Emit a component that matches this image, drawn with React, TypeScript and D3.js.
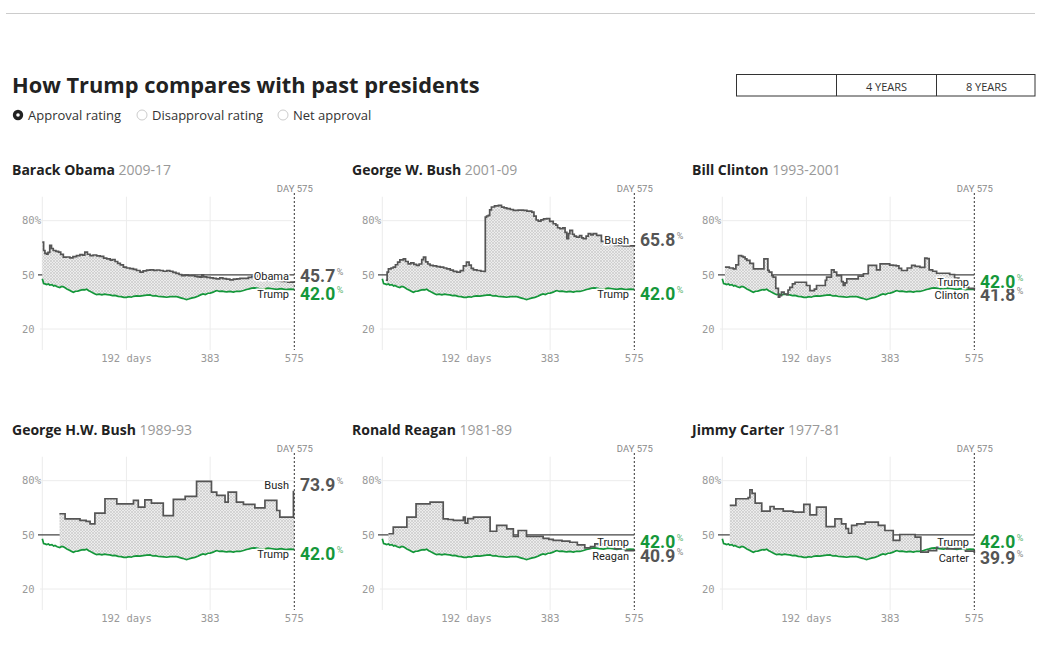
import * as d3 from "d3";

// approval ratings, [day in office, approval %]
const trump: [number, number][] = [
  [0, 47.8], [3, 45.2], [6, 45.0], [10, 44.6], [14, 44.9], [17, 44.3], [22, 44.6], [26, 43.8], [29, 44.1],
  [34, 43.4], [40, 43.0], [44, 43.6], [48, 43.4], [52, 42.8], [56, 42.2], [62, 41.5], [67, 40.8], [71, 40.3],
  [76, 40.9], [81, 41.0], [86, 41.4], [92, 41.8], [97, 41.7], [101, 42.1], [106, 41.2], [110, 40.8], [113, 40.3],
  [118, 39.7], [124, 39.0], [130, 39.3], [136, 38.9], [142, 39.3], [148, 39.0], [154, 38.9], [160, 38.5],
  [166, 38.6], [173, 38.1], [180, 37.9], [186, 37.5], [192, 37.5], [198, 37.9], [203, 37.6], [208, 38.1],
  [215, 38.4], [223, 38.2], [230, 38.5], [238, 38.8], [246, 38.9], [252, 38.3], [258, 38.5], [265, 38.0],
  [272, 37.9], [278, 37.8], [284, 37.6], [292, 37.9], [299, 38.0], [307, 37.9], [314, 37.4], [320, 37.0],
  [325, 36.6], [329, 36.3], [334, 36.6], [340, 37.1], [348, 37.5], [355, 38.1], [361, 38.9], [367, 39.4],
  [372, 39.1], [378, 39.8], [383, 39.9], [390, 40.4], [395, 41.0], [398, 41.3], [404, 40.8], [410, 41.0],
  [416, 40.7], [421, 40.6], [428, 40.8], [436, 40.4], [443, 40.9], [451, 40.8], [459, 41.3], [466, 41.9],
  [472, 42.2], [478, 42.6], [485, 42.8], [495, 42.4], [505, 42.1], [515, 42.6], [525, 42.3], [535, 42.0],
  [545, 42.4], [555, 41.8], [565, 42.1], [575, 42.0],
];

const obama: [number, number][] = [
  [0, 68.1], [3, 63.5], [6, 61.9], [10, 61.5], [13, 62.5], [17, 66.3], [21, 64.6], [25, 63.5], [31, 63.0],
  [37, 62.6], [42, 61.3], [48, 59.8], [55, 59.9], [63, 59.4], [70, 60.1], [78, 60.7], [86, 61.2], [92, 60.9],
  [97, 62.6], [103, 61.4], [109, 60.7], [116, 61.0], [124, 60.5], [132, 60.2], [140, 59.3], [147, 58.9],
  [155, 58.2], [160, 58.5], [166, 57.4], [172, 56.4], [178, 55.5], [185, 54.3], [192, 53.8], [200, 53.5],
  [208, 53.0], [215, 52.4], [223, 51.5], [230, 52.2], [238, 52.6], [246, 52.8], [254, 52.5], [261, 52.7],
  [268, 52.4], [276, 52.0], [284, 52.3], [291, 52.0], [298, 51.4], [305, 50.8], [312, 50.2], [318, 49.6],
  [326, 49.8], [333, 49.5], [341, 49.6], [348, 49.2], [354, 48.9], [360, 48.7], [364, 50.0], [368, 48.9],
  [375, 48.6], [383, 48.3], [390, 48.1], [397, 47.8], [405, 48.3], [412, 47.9], [420, 47.6], [428, 47.2],
  [436, 47.6], [444, 47.8], [451, 48.1], [460, 48.0], [470, 48.6], [478, 49.1], [490, 48.0], [500, 47.5],
  [515, 47.1], [530, 46.6], [545, 46.4], [560, 46.0], [575, 45.7],
];

const bushW: [number, number][] = [
  [8, 47.0], [11, 51.5], [14, 53.3], [20, 53.8], [25, 54.3], [30, 55.6], [35, 57.0], [40, 58.3], [48, 58.9],
  [53, 57.4], [59, 56.1], [65, 56.6], [72, 55.8], [78, 55.2], [84, 56.0], [90, 58.4], [94, 59.8], [99, 57.2],
  [104, 56.0], [109, 55.2], [116, 55.0], [124, 54.6], [132, 54.3], [140, 53.8], [147, 53.3], [155, 52.6],
  [162, 51.9], [170, 51.5], [178, 52.3], [185, 55.0], [192, 57.0], [198, 55.4], [203, 53.6], [208, 52.8],
  [216, 52.4], [225, 52.0], [233, 51.9], [235, 82.0], [238, 82.6], [242, 83.0], [245, 86.0], [249, 87.6],
  [256, 88.2], [265, 88.5], [272, 87.5], [278, 87.1], [284, 86.7], [292, 86.2], [299, 85.7], [310, 85.9],
  [322, 85.7], [330, 85.3], [341, 84.8], [346, 82.5], [351, 80.4], [356, 79.8], [362, 80.5], [368, 81.0],
  [375, 81.1], [382, 79.6], [390, 78.3], [396, 77.5], [400, 76.1], [405, 75.6], [412, 76.0], [417, 73.5],
  [421, 70.0], [425, 72.8], [428, 74.6], [434, 72.5], [438, 71.5], [443, 70.9], [450, 71.8], [455, 70.5],
  [459, 70.0], [465, 71.5], [470, 72.8], [476, 72.2], [481, 72.8], [489, 71.9], [500, 68.5], [515, 67.6],
  [530, 66.3], [550, 66.0], [575, 65.8],
];

const clinton: [number, number][] = [
  [6, 54.3], [16, 53.8], [25, 53.3], [31, 55.5], [37, 60.7], [44, 60.2], [48, 59.8], [52, 58.8], [56, 58.0],
  [63, 56.4], [71, 53.3], [90, 53.3], [95, 58.9], [100, 58.9], [104, 52.5], [107, 51.5], [113, 49.5],
  [116, 48.7], [122, 42.5], [128, 37.6], [131, 38.5], [135, 40.4], [141, 39.4], [147, 39.1], [150, 41.6],
  [154, 43.1], [160, 45.0], [166, 45.9], [185, 45.9], [192, 44.1], [196, 44.1], [200, 41.3], [210, 42.1],
  [215, 44.1], [231, 44.1], [235, 47.0], [238, 48.7], [244, 48.7], [249, 52.8], [255, 51.5], [261, 49.6],
  [268, 49.6], [272, 46.2], [276, 44.1], [280, 45.5], [284, 47.8], [299, 47.8], [310, 49.3], [322, 50.6],
  [329, 50.6], [333, 55.2], [345, 55.2], [352, 52.8], [356, 52.8], [360, 56.1], [375, 56.1], [382, 55.4],
  [390, 55.2], [397, 55.0], [403, 53.6], [409, 52.4], [415, 52.4], [422, 53.8], [432, 55.2], [440, 54.7],
  [451, 54.1], [458, 54.1], [462, 59.3], [467, 59.0], [472, 52.8], [480, 52.0], [489, 50.9], [512, 50.9],
  [519, 50.2], [530, 48.2], [540, 45.0], [552, 43.4], [562, 42.5], [575, 41.8],
];

const bushHW: [number, number][] = [
  [39, 61.7], [48, 61.7], [52, 58.9], [70, 58.9], [86, 58.0], [100, 57.5], [109, 56.1], [120, 62.0],
  [143, 70.0], [170, 67.2], [200, 67.2], [208, 69.1], [219, 65.4], [228, 65.4], [234, 69.4], [249, 67.6],
  [268, 67.6], [276, 60.7], [299, 69.6], [313, 69.6], [326, 71.3], [352, 79.6], [386, 73.7], [398, 71.9],
  [409, 71.9], [417, 68.1], [424, 73.7], [443, 68.1], [459, 66.9], [485, 65.0], [497, 65.0], [508, 69.1],
  [524, 69.1], [535, 63.5], [542, 59.8], [571, 59.8], [573, 73.9], [575, 73.9],
];

const reagan: [number, number][] = [
  [14, 50.6], [25, 54.3], [45, 54.3], [56, 59.8], [70, 59.8], [77, 67.2], [109, 68.1], [139, 58.9],
  [150, 58.5], [162, 58.0], [180, 58.0], [185, 59.8], [189, 56.5], [195, 59.0], [208, 59.8], [230, 59.8],
  [246, 52.0], [255, 52.0], [261, 55.2], [276, 55.2], [284, 53.3], [295, 53.3], [299, 49.1], [305, 49.1],
  [310, 52.4], [325, 52.4], [329, 49.1], [348, 49.1], [367, 48.1], [380, 47.5], [390, 46.9], [410, 46.5],
  [428, 45.9], [445, 44.5], [462, 42.8], [475, 43.5], [485, 45.0], [505, 43.8], [530, 42.3], [555, 41.3],
  [575, 40.9],
];

const carter: [number, number][] = [
  [17, 66.3], [31, 70.0], [59, 70.6], [63, 75.0], [68, 73.0], [75, 67.6], [90, 63.1], [109, 65.7],
  [118, 64.4], [124, 64.4], [139, 63.1], [162, 62.6], [180, 62.6], [186, 66.9], [196, 66.9], [200, 61.1],
  [215, 65.4], [230, 65.4], [237, 54.6], [257, 58.9], [266, 58.9], [272, 56.1], [282, 53.5], [288, 50.9],
  [295, 55.2], [307, 56.1], [326, 57.0], [345, 57.0], [356, 55.2], [371, 52.4], [386, 52.4], [390, 46.9],
  [398, 46.9], [405, 50.2], [425, 50.2], [440, 48.7], [448, 48.7], [453, 40.4], [470, 41.3], [489, 43.1],
  [512, 42.2], [530, 42.5], [555, 41.0], [575, 39.9],
];

const presidents = ["Barack Obama", "George W. Bush", "Bill Clinton", "George H.W. Bush", "Ronald Reagan", "Jimmy Carter"];
const terms = ["2009-17", "2001-09", "1993-2001", "1989-93", "1981-89", "1977-81"];
const shortNames = ["Obama", "Bush", "Clinton", "Bush", "Reagan", "Carter"];
const series = [obama, bushW, clinton, bushHW, reagan, carter];
const finals = [45.7, 65.8, 41.8, 73.9, 40.9, 39.9];
const trumpFinal = 42.0;

const dayTicks = [0, 192, 383];
const dayLabels = ["192 days", "383", "575"];
const yTicks = [80, 50, 20];
const radioLabels = ["Approval rating", "Disapproval rating", "Net approval"];
const tabLabels = ["", "4 YEARS", "8 YEARS"];

const SANS = "'Open Sans', Roboto, sans-serif";
const NUM = "Roboto, 'Noto Sans', sans-serif";
const MONO = "'DejaVu Sans Mono', monospace";
const GREEN = "#14973a";
const GRAY = "#555";

const x = d3.scaleLinear().domain([0, 575]).range([42.3, 294.3]);
const y = d3.scaleLinear().domain([20, 80]).range([179, 70.7]);

const stepLine = d3.line<[number, number]>().x((d) => x(d[0])).y((d) => y(d[1])).curve(d3.curveStepAfter);
const plainLine = d3.line<[number, number]>().x((d) => x(d[0])).y((d) => y(d[1]));

function Panel({ i }: { i: number }) {
  const col = i % 3;
  const row = Math.floor(i / 3);
  const pres = series[i];
  const start = pres[0][0];
  const trumpPart = trump.filter((d) => d[0] >= start).reverse();
  const areaD = stepLine(pres)! + plainLine(trumpPart)!.replace(/^M/, "L") + "Z";

  const presUp = finals[i] > trumpFinal;
  const labels = [
    { name: shortNames[i], v: finals[i], color: GRAY, up: presUp },
    { name: "Trump", v: trumpFinal, color: GREEN, up: !presUp },
  ].sort((a) => (a.up ? 1 : -1)); // draw the upper one last

  return (
    <g transform={`translate(${col * 340},${150 + row * 260})`}>
      <text x={12} y={25} fontFamily={SANS} fontSize={14}>
        <tspan fontWeight="bold" fill="#222">{presidents[i]}</tspan>
        <tspan fill="#999"> {terms[i]}</tspan>
      </text>

      {dayTicks.map((d) => (
        <line key={d} x1={x(d)} x2={x(d)} y1={46.7} y2={200} stroke="#ececec" />
      ))}
      {yTicks.map((t) => (
        <g key={t}>
          <line
            x1={t === 50 ? 38 : 40}
            x2={x(575)}
            y1={y(t)}
            y2={y(t)}
            stroke={t === 50 ? "#444" : "#ececec"}
            strokeWidth={t === 50 ? 1.2 : 1}
          />
          <text x={22} y={y(t)} dy="0.35em" fontFamily={MONO} fontSize={10.5} fill="#999">
            {t === 80 ? "80%" : t}
          </text>
        </g>
      ))}

      <path d={areaD} fill="url(#hatch)" stroke="none" />
      <path d={plainLine(trump)!} fill="none" stroke={GREEN} strokeWidth={1.7} />
      <path d={stepLine(pres)!} fill="none" stroke={GRAY} strokeWidth={1.7} />

      <line x1={x(575)} x2={x(575)} y1={43} y2={200} stroke="#333" strokeDasharray="2,2" />
      <text x={x(575) + 0.5} y={42} textAnchor="middle" fontFamily={NUM} fontSize={9.5} fill="#888">
        DAY 575
      </text>

      {dayLabels.map((l, k) => (
        <text key={l} x={x([192, 383, 575][k])} y={212} textAnchor="middle" fontFamily={MONO} fontSize={10.5} fill="#999">
          {l}
        </text>
      ))}

      {labels.map((l) => {
        const base = y(l.v) + (l.up ? -0.8 : 11.2);
        return (
          <g key={l.name + l.v}>
            <text
              x={289}
              y={base - 2}
              textAnchor="end"
              fontFamily={NUM}
              fontSize={11}
              fill="#222"
              stroke="#fff"
              strokeWidth={3}
              paintOrder="stroke"
            >
              {l.name}
            </text>
            <text
              x={300}
              y={base}
              fontFamily={NUM}
              fontSize={17.5}
              fontWeight="bold"
              fill={l.color}
              stroke="#fff"
              strokeWidth={2.5}
              paintOrder="stroke"
            >
              {l.v.toFixed(1)}
              <tspan fontSize={9} fontWeight="normal" dx={1.5} dy={-7} fill={l.color} opacity={0.7}>
                %
              </tspan>
            </text>
          </g>
        );
      })}
    </g>
  );
}

export default function App() {
  return (
    <div style={{ position: "absolute", left: 0, top: 0 }}>
      <svg width={1047} height={667} style={{ display: "block", background: "#fff" }}>
        <defs>
          <pattern id="hatch" width={3} height={3} patternUnits="userSpaceOnUse">
            <rect width={3} height={3} fill="#ececec" />
            <path d="M0,3 L3,0 M0,0 L3,3" stroke="#c4c4c4" strokeWidth={0.6} />
          </pattern>
        </defs>

        <line x1={6} x2={1035} y1={13.5} y2={13.5} stroke="#ccc" strokeWidth={1.2} />

        <text x={12} y={93} fontFamily={SANS} fontSize={21.8} fontWeight="bold" fill="#222">
          How Trump compares with past presidents
        </text>

        {radioLabels.map((l, k) => {
          const cx = [18, 142, 283][k];
          return (
            <g key={l}>
              {k === 0 ? (
                <>
                  <circle cx={cx} cy={115} r={5.2} fill="#222" />
                  <circle cx={cx} cy={115} r={1.8} fill="#fff" />
                </>
              ) : (
                <circle cx={cx} cy={115} r={5} fill="#fff" stroke="#ccc" />
              )}
              <text x={cx + 10} y={119.5} fontFamily={SANS} fontSize={13} fill="#333">
                {l}
              </text>
            </g>
          );
        })}

        <rect x={736.5} y={74.5} width={298.5} height={21.5} fill="none" stroke="#333" />
        {tabLabels.map((t, k) => (
          <g key={k}>
            {k > 0 && <line x1={736.5 + k * 100} x2={736.5 + k * 100} y1={74.5} y2={96} stroke="#333" />}
            <text x={786.5 + k * 100} y={87} dy="0.35em" textAnchor="middle" fontFamily={SANS} fontSize={11} fill="#333">
              {t}
            </text>
          </g>
        ))}

        {presidents.map((_, i) => (
          <Panel key={i} i={i} />
        ))}
      </svg>
    </div>
  );
}
